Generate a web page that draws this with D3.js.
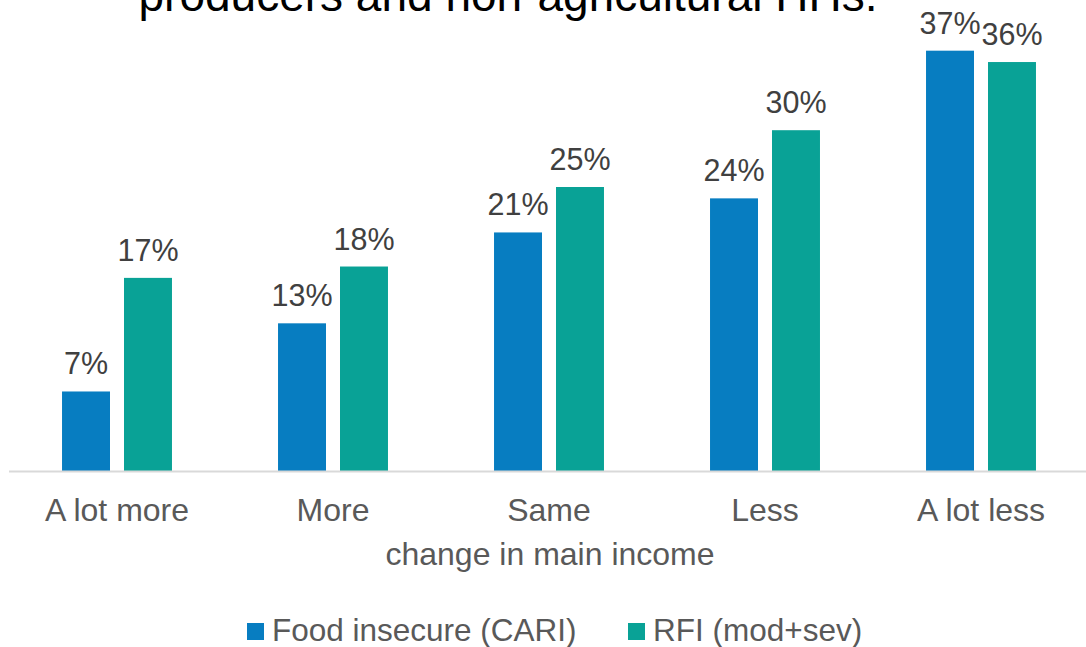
<!DOCTYPE html>
<html>
<head>
<meta charset="utf-8">
<script src="https://cdn.jsdelivr.net/npm/d3@7"></script>
<style>
  html, body { margin: 0; padding: 0; background: #ffffff; }
  svg { display: block; font-family: "Liberation Sans", Arial, sans-serif; }
</style>
</head>
<body>
<svg id="chart" width="1086" height="647"></svg>
<script>
// Share of households by change in main income
const categories = ["A lot more", "More", "Same", "Less", "A lot less"];
const seriesNames = ["Food insecure (CARI)", "RFI (mod+sev)"];
const foodInsecure = [0.07, 0.13, 0.21, 0.24, 0.37];
const rfiModSev = [0.17, 0.18, 0.25, 0.30, 0.36];
const seriesColors = ["#077dc1", "#09a296"];
const titleLine = "producers and non-agricultural HHs.";
const axisTitle = "change in main income";

const seriesValues = [foodInsecure, rfiModSev];
const rows = categories.map((c, i) => ({
  category: c,
  values: seriesNames.map((s, j) => ({ series: s, idx: j, value: seriesValues[j][i] }))
}));

const svg = d3.select("#chart");
const baseY = 471;

const x0 = d3.scaleBand()
  .domain(categories)
  .range([9, 1089])
  .paddingInner(0.491)
  .paddingOuter(0.2455);

const x1 = d3.scaleBand()
  .domain(seriesNames)
  .range([0, x0.bandwidth()])
  .paddingInner(0.226)
  .paddingOuter(0);

const y = d3.scaleLinear()
  .domain([0, 0.40])
  .range([baseY, baseY - 11.36 * 40]);

const pct = d3.format(".0%");

// Title (second line of the heading; first line sits above the canvas)
svg.append("text")
  .attr("x", 508)
  .attr("y", 11)
  .attr("text-anchor", "middle")
  .attr("font-size", 46)
  .attr("fill", "#000000")
  .text(titleLine);

// Bars
const groups = svg.append("g")
  .selectAll("g")
  .data(rows)
  .join("g")
  .attr("transform", d => `translate(${x0(d.category)},0)`);

groups.selectAll("rect")
  .data(d => d.values)
  .join("rect")
  .attr("x", d => x1(d.series))
  .attr("y", d => y(d.value))
  .attr("width", x1.bandwidth())
  .attr("height", d => y(0) - y(d.value))
  .attr("fill", d => seriesColors[d.idx]);

// Value labels
groups.selectAll("text")
  .data(d => d.values)
  .join("text")
  .attr("x", d => x1(d.series) + x1.bandwidth() / 2)
  .attr("y", d => y(d.value) - 17)
  .attr("text-anchor", "middle")
  .attr("font-size", 30.5)
  .attr("fill", "#404040")
  .text(d => pct(d.value));

// Category axis
const xAxis = svg.append("g")
  .attr("transform", `translate(0,${baseY})`)
  .call(d3.axisBottom(x0).tickSize(0).tickPadding(0));
xAxis.select(".domain").remove();
xAxis.append("line")
  .attr("x1", 9).attr("x2", 1086)
  .attr("y1", 0.5).attr("y2", 0.5)
  .attr("stroke", "#d9d9d9")
  .attr("stroke-width", 2);
xAxis.selectAll(".tick text")
  .attr("y", 50)
  .attr("dy", 0)
  .attr("font-size", 32)
  .attr("font-family", "\"Liberation Sans\", Arial, sans-serif")
  .attr("fill", "#595959");

// Axis title
svg.append("text")
  .attr("x", 550)
  .attr("y", 565)
  .attr("text-anchor", "middle")
  .attr("font-size", 32)
  .attr("fill", "#595959")
  .text(axisTitle);

// Legend
const legendItems = [
  { name: seriesNames[0], color: seriesColors[0], x: 247 },
  { name: seriesNames[1], color: seriesColors[1], x: 628 }
];
const legend = svg.append("g");
legend.selectAll("rect")
  .data(legendItems)
  .join("rect")
  .attr("x", d => d.x)
  .attr("y", 623)
  .attr("width", 17)
  .attr("height", 17)
  .attr("fill", d => d.color);
legend.selectAll("text")
  .data(legendItems)
  .join("text")
  .attr("x", d => d.x + 25)
  .attr("y", 641)
  .attr("font-size", 31.5)
  .attr("fill", "#595959")
  .text(d => d.name);
</script>
</body>
</html>
